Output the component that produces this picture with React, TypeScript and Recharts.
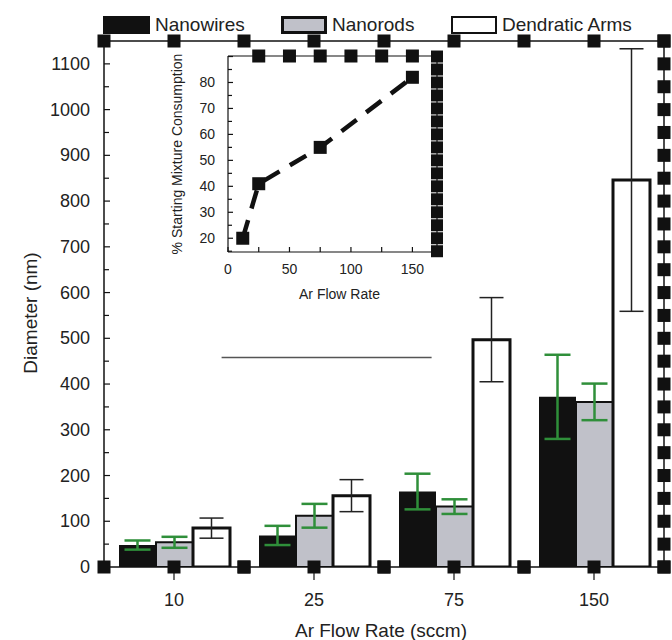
import { Bar, BarChart, ErrorBar, Line, LineChart, ReferenceDot, ReferenceLine, XAxis, YAxis } from "recharts"

const FONT = '"Liberation Sans", Arial, sans-serif'
const INK = "#111"

// main chart: diameter by Ar flow rate
const flowRates = ["10", "25", "75", "150"]
const nanowires = [48, 69, 165, 372]
const nanowiresErr = [10, 21, 39, 92]
const nanorods = [54, 112, 132, 361]
const nanorodsErr = [12, 26, 16, 40]
const dendriticArms = [85, 156, 497, 846]
const dendriticErr = [22, 35, 92, 287]

const diameterTicks = [0, 50, 100, 150, 200, 250, 300, 350, 400, 450, 500, 550, 600, 650, 700, 750, 800, 850, 900, 950, 1000, 1050, 1100]
const rightMarkers = [0, 50, 100, 150, 200, 250, 300, 350, 400, 450, 500, 550, 600, 650, 700, 750, 800, 850, 900, 950, 1000, 1050, 1100, 1150]
const frameMarkers = [0, 0.5, 1, 1.5, 2, 2.5, 3, 3.5, 4]
const frameTop = 1150
const guideSegment = [
  { x: 0.84, y: 458 },
  { x: 2.34, y: 458 },
]

// inset: consumption vs flow rate
const insetFlow = [12, 25, 75, 150]
const insetConsumption = [20, 41, 55, 82]
const insetFlowTicks = [0, 25, 50, 75, 100, 125, 150]
const insetTopMarkers = [25, 50, 75, 100, 125, 150]
const insetPctTicks = [15, 20, 25, 30, 35, 40, 45, 50, 55, 60, 65, 70, 75, 80, 85, 90]

const mainData = flowRates.map((flow, i) => ({
  flow,
  nanowires: nanowires[i],
  nanowiresErr: nanowiresErr[i],
  nanorods: nanorods[i],
  nanorodsErr: nanorodsErr[i],
  dendritic: dendriticArms[i],
  dendriticErr: dendriticErr[i],
}))

const frameData = frameMarkers.map((pos) => ({ pos }))

const insetData = insetFlow.map((flow, i) => ({ flow, pct: insetConsumption[i] }))

const legendItems = [
  { name: "Nanowires", fill: INK, border: 0, left: 103, width: 47, textLeft: 155 },
  { name: "Nanorods", fill: "#c0c1c9", border: 3, left: 281, width: 46, textLeft: 332 },
  { name: "Dendratic Arms", fill: "#fff", border: 2.5, left: 451, width: 46, textLeft: 502 },
]

const squareTick = (size: number) => (props: any) => {
  const { x, y } = props
  return <rect x={x - size / 2} y={y - size / 2} width={size} height={size} fill={INK} />
}

const squareDot = (size: number) => (props: any) => {
  const { cx, cy } = props
  return <rect x={cx - size / 2} y={cy - size / 2} width={size} height={size} fill={INK} />
}

// category tick: tick mark, label and the square markers at band centre and band edges
const FlowTick = (props: any) => {
  const { x, y, payload } = props
  const half = payload.offset ?? 70
  return (
    <g>
      <line x1={x} x2={x} y1={y} y2={y + 13} stroke={INK} strokeWidth={1.2} />
      {[x - half, x, x + half].map((sx) => (
        <rect key={sx} x={sx - 6.5} y={y - 6.5} width={13} height={13} fill={INK} />
      ))}
      <text x={x} y={y + 33} textAnchor="middle" dominantBaseline="central" fontSize={18} fill="#222" fontFamily={FONT}>
        {payload.value}
      </text>
    </g>
  )
}

const DiameterTick = (props: any) => {
  const { x, y, payload } = props
  const major = payload.value % 100 === 0
  return (
    <g>
      <line x1={x} x2={x + (major ? 6 : 5)} y1={y} y2={y} stroke={INK} strokeWidth={1.2} />
      {major && (
        <text x={x - 14} y={y} textAnchor="end" dominantBaseline="central" fontSize={18} fill="#222" fontFamily={FONT}>
          {payload.value}
        </text>
      )}
    </g>
  )
}

const InsetFlowTick = (props: any) => {
  const { x, y, payload } = props
  return (
    <g>
      <line x1={x} x2={x} y1={y} y2={y - 5} stroke={INK} strokeWidth={1.2} />
      {payload.value % 50 === 0 && (
        <text x={x} y={y + 17} textAnchor="middle" dominantBaseline="central" fontSize={14} fill="#222" fontFamily={FONT}>
          {payload.value}
        </text>
      )}
    </g>
  )
}

const InsetPctTick = (props: any) => {
  const { x, y, payload } = props
  const major = payload.value % 10 === 0
  return (
    <g>
      <line x1={x} x2={x + (major ? 5 : 4)} y1={y} y2={y} stroke={INK} strokeWidth={1.2} />
      {major && payload.value < 90 && (
        <text x={x - 13} y={y} textAnchor="end" dominantBaseline="central" fontSize={14} fill="#222" fontFamily={FONT}>
          {payload.value}
        </text>
      )}
    </g>
  )
}

const axisLine = { stroke: INK, strokeWidth: 1.5 }

function Inset() {
  return (
    <div style={{ position: "absolute", left: 150, top: 40, zIndex: 4 }}>
      <LineChart width={300} height={270} data={insetData} margin={{ top: 15, right: 12, left: 0, bottom: 0 }}>
        <XAxis
          dataKey="flow"
          type="number"
          domain={[0, 170]}
          allowDataOverflow
          ticks={insetFlowTicks}
          interval={0}
          height={58}
          tickSize={0}
          tickMargin={0}
          tickLine={false}
          tick={<InsetFlowTick />}
          axisLine={{ stroke: INK, strokeWidth: 1.2 }}
          label={{ value: "Ar Flow Rate", position: "insideBottom", offset: 11, dx: 7, fontSize: 14, fill: "#222", fontFamily: FONT }}
        />
        <XAxis
          xAxisId="top"
          dataKey="flow"
          type="number"
          orientation="top"
          domain={[0, 170]}
          allowDataOverflow
          ticks={insetTopMarkers}
          interval={0}
          height={1}
          tickSize={0}
          tickMargin={0}
          tickLine={false}
          tick={squareTick(13)}
          axisLine={{ stroke: INK, strokeWidth: 1.2 }}
        />
        <YAxis
          type="number"
          domain={[14.7, 90.2]}
          allowDataOverflow
          ticks={insetPctTicks}
          interval={0}
          width={78}
          tickSize={0}
          tickMargin={0}
          tickLine={false}
          tick={<InsetPctTick />}
          axisLine={{ stroke: INK, strokeWidth: 1.2 }}
          label={{
            value: "% Starting Mixture  Consumption",
            angle: -90,
            position: "insideLeft",
            offset: 27,
            fontSize: 14,
            fill: "#222",
            fontFamily: FONT,
            style: { textAnchor: "middle", whiteSpace: "pre" },
          }}
        />
        <YAxis
          yAxisId="right"
          orientation="right"
          type="number"
          domain={[14.7, 90.2]}
          allowDataOverflow
          ticks={insetPctTicks}
          interval={0}
          width={1}
          tickSize={0}
          tickMargin={0}
          tickLine={false}
          tick={squareTick(12)}
          axisLine={{ stroke: INK, strokeWidth: 1.2 }}
        />
        <Line
          dataKey="pct"
          stroke={INK}
          strokeWidth={4.5}
          strokeDasharray="19 12"
          dot={squareDot(13)}
          activeDot={false}
          isAnimationActive={false}
        />
      </LineChart>
    </div>
  )
}

// numeric overlay: top frame line with its square markers, and the stray guide line
function FrameOverlay() {
  return (
    <div style={{ position: "absolute", left: 0, top: 0, zIndex: 2, pointerEvents: "none" }}>
      <LineChart width={672} height={640} data={frameData} margin={{ top: 40, right: 8, left: 104, bottom: 73 }}>
        <XAxis
          xAxisId="top"
          dataKey="pos"
          type="number"
          orientation="top"
          domain={[0, 4]}
          allowDataOverflow
          height={1}
          tick={false}
          tickLine={false}
          axisLine={axisLine}
        />
        <YAxis type="number" domain={[0, 1150]} allowDataOverflow hide />
        <ReferenceLine xAxisId="top" segment={guideSegment} stroke="#555" strokeWidth={1.5} ifOverflow="visible" />
        {frameMarkers.map((pos) => (
          <ReferenceDot key={pos} xAxisId="top" x={pos} y={frameTop} ifOverflow="visible" shape={squareDot(13)} />
        ))}
      </LineChart>
    </div>
  )
}

export default function App() {
  return (
    <div style={{ position: "absolute", left: 0, top: 0, width: 672, height: 640, background: "#fff", fontFamily: FONT }}>
      <div style={{ position: "absolute", left: 0, top: 0, zIndex: 1 }}>
        <BarChart
          width={672}
          height={640}
          data={mainData}
          margin={{ top: 41, right: 7, left: 0, bottom: 0 }}
          barCategoryGap={15}
          barGap={0}
        >
          <YAxis
            yAxisId="right"
            orientation="right"
            type="number"
            domain={[0, 1150]}
            allowDataOverflow
            ticks={rightMarkers}
            interval={0}
            width={1}
            tickSize={0}
            tickMargin={0}
            tickLine={false}
            tick={squareTick(13)}
            axisLine={axisLine}
          />
          <Bar dataKey="nanowires" fill={INK} isAnimationActive={false}>
            <ErrorBar dataKey="nanowiresErr" stroke="#2f8f3a" strokeWidth={2.5} width={13} />
          </Bar>
          <Bar dataKey="nanorods" fill="#c0c1c9" stroke={INK} strokeWidth={2} isAnimationActive={false}>
            <ErrorBar dataKey="nanorodsErr" stroke="#2f8f3a" strokeWidth={2.5} width={13} />
          </Bar>
          <Bar dataKey="dendritic" fill="#fff" stroke={INK} strokeWidth={3} isAnimationActive={false}>
            <ErrorBar dataKey="dendriticErr" stroke="#222" strokeWidth={1.5} width={12} />
          </Bar>
          <YAxis
            type="number"
            domain={[0, 1150]}
            allowDataOverflow
            ticks={diameterTicks}
            interval={0}
            width={104}
            tickSize={0}
            tickMargin={0}
            tickLine={false}
            tick={<DiameterTick />}
            axisLine={axisLine}
            label={{
              content: () => (
                <text
                  x={30}
                  y={313}
                  transform="rotate(-90 30 313)"
                  textAnchor="middle"
                  dominantBaseline="central"
                  fontSize={19}
                  fill="#222"
                  fontFamily={FONT}
                >
                  Diameter (nm)
                </text>
              ),
            }}
          />
          <XAxis
            dataKey="flow"
            height={73}
            tickSize={0}
            tickMargin={0}
            tickLine={false}
            tick={<FlowTick />}
            axisLine={axisLine}
            label={{ value: "Ar Flow Rate (sccm)", position: "insideBottom", offset: 3, dx: -3, fontSize: 19, fill: "#222", fontFamily: FONT }}
          />
        </BarChart>
      </div>
      <FrameOverlay />
      <Inset />
      {legendItems.map((item) => (
        <div key={item.name}>
          <div
            style={{
              position: "absolute",
              left: item.left,
              top: 16,
              width: item.width,
              height: 18,
              boxSizing: "border-box",
              background: item.fill,
              border: item.border ? `${item.border}px solid ${INK}` : "none",
            }}
          />
          <div
            style={{
              position: "absolute",
              left: item.textLeft,
              top: 14,
              fontSize: 19,
              lineHeight: "22px",
              color: "#222",
              whiteSpace: "nowrap",
            }}
          >
            {item.name}
          </div>
        </div>
      ))}
    </div>
  )
}
